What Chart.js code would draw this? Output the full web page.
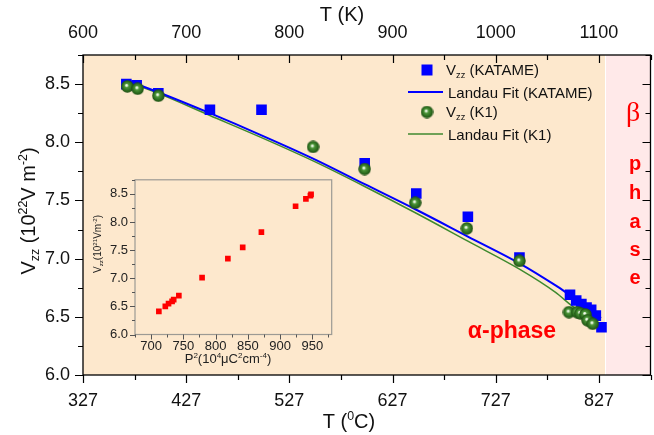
<!DOCTYPE html>
<html>
<head>
<meta charset="utf-8">
<script src="https://cdn.jsdelivr.net/npm/chart.js@4.4.1/dist/chart.umd.min.js"></script>
<style>
  html, body { margin: 0; padding: 0; background: #fff; overflow: hidden; }
  #wrap { position: relative; width: 654px; height: 435px; overflow: hidden; }
  #main { position: absolute; left: 0; top: 0; }
  #inset { position: absolute; left: 88px; top: 165px; }
</style>
</head>
<body>
<div id="wrap">
  <canvas id="main" width="658" height="435" style="width:658px;height:435px"></canvas>
  <canvas id="inset" width="252" height="210" style="width:252px;height:210px"></canvas>
</div>
<script>
// Vzz vs temperature (°C), KATAME and K1 samples
const katameT = [369, 379, 400, 450, 500, 600, 650, 700, 750, 799, 805, 810, 815, 819.5, 824, 829.5];
const katameV = [8.50, 8.49, 8.42, 8.28, 8.28, 7.82, 7.56, 7.36, 7.01, 6.69, 6.64, 6.61, 6.58, 6.56, 6.51, 6.41];
const k1T = [370, 380, 400, 550, 600, 649, 699, 750, 798, 806, 809, 814, 816, 821];
const k1V = [8.48, 8.46, 8.40, 7.96, 7.77, 7.48, 7.26, 6.98, 6.54, 6.54, 6.53, 6.52, 6.47, 6.44];

// Landau fit curves
const fitKatameT = [370, 400, 450, 500, 550, 600, 650, 700, 750, 785, 800, 815, 829];
const fitKatameV = [8.53, 8.43, 8.25, 8.06, 7.86, 7.64, 7.42, 7.19, 6.96, 6.77, 6.68, 6.59, 6.49];
const fitK1T = [370, 400, 450, 500, 550, 600, 650, 700, 750, 785, 800, 815, 822];
const fitK1V = [8.52, 8.42, 8.23, 8.04, 7.84, 7.62, 7.39, 7.15, 6.91, 6.71, 6.60, 6.50, 6.45];

// inset: Vzz vs P^2
const p2 = [712, 722, 727, 732.5, 735, 743, 779, 819, 842, 871, 924, 940, 947, 948];
const p2Vzz = [6.41, 6.50, 6.55, 6.59, 6.62, 6.69, 7.01, 7.35, 7.55, 7.82, 8.28, 8.41, 8.47, 8.49];

// axis ticks
const celsiusTicks = [327, 427, 527, 627, 727, 827];
const celsiusMinor = [377, 477, 577, 677, 777, 877];
const kelvinTicks = [600, 700, 800, 900, 1000, 1100];
const kelvinMinor = [650, 750, 850, 950, 1050, 1150];
const vzzTicks = [6.0, 6.5, 7.0, 7.5, 8.0, 8.5];
const vzzMinor = [6.25, 6.75, 7.25, 7.75, 8.25, 8.75];
const p2Ticks = [700, 750, 800, 850, 900, 950];
const p2Minor = [675, 725, 775, 825, 875, 925, 975];

const betaStart = 833; // °C, start of the beta phase band

const FONT = '"Liberation Sans", Arial, sans-serif';
const CREAM = '#fde8cd';
const PINK = '#ffe9e9';
const BLUE = '#0000ff';
const GREEN_LINE = '#3f8a2f';
const RED = '#ff0000';

const zip = (xs, ys) => xs.map((x, i) => ({ x, y: ys[i] }));

// shaded green ball used as point marker
function makeSphere(d) {
  const c = document.createElement('canvas');
  c.width = c.height = d;
  const g = c.getContext('2d');
  const r = d / 2;
  const grad = g.createRadialGradient(r * 0.85, r * 0.8, 0, r, r, r);
  grad.addColorStop(0, '#ffffff');
  grad.addColorStop(0.16, '#d6ebcc');
  grad.addColorStop(0.32, '#4c9639');
  grad.addColorStop(0.75, '#2a681c');
  grad.addColorStop(1, '#1a4a11');
  g.fillStyle = grad;
  g.beginPath();
  g.arc(r, r, r - 0.3, 0, Math.PI * 2);
  g.fill();
  return c;
}
const sphere = makeSphere(13);

// text with sub/superscript pieces, y is the baseline
function richText(ctx, parts, x, y, size, align, color, weight) {
  weight = weight || 'normal';
  const fontFor = k => `${weight} ${k ? size * 0.62 : size}px ${FONT}`;
  const widths = parts.map(([t, k]) => { ctx.font = fontFor(k); return ctx.measureText(t).width; });
  const total = widths.reduce((a, b) => a + b, 0);
  let cx = align === 'center' ? x - total / 2 : x;
  ctx.fillStyle = color;
  ctx.textAlign = 'left';
  ctx.textBaseline = 'alphabetic';
  parts.forEach(([t, k], i) => {
    ctx.font = fontFor(k);
    const dy = k === 'sub' ? size * 0.22 : k === 'sup' ? -size * 0.38 : 0;
    ctx.fillText(t, cx, y + dy);
    cx += widths[i];
  });
}

function hTicks(ctx, scale, y, values, len) {
  values.forEach(v => {
    const px = Math.round(scale.getPixelForValue(v)) + 0.5;
    ctx.moveTo(px, y);
    ctx.lineTo(px, y + len);
  });
}
function vTicks(ctx, scale, x, values, len) {
  values.forEach(v => {
    const py = Math.round(scale.getPixelForValue(v)) + 0.5;
    ctx.moveTo(x, py);
    ctx.lineTo(x + len, py);
  });
}

const backdrop = {
  id: 'backdrop',
  beforeDraw(chart) {
    const { ctx, chartArea: a, scales } = chart;
    ctx.save();
    ctx.fillStyle = '#fff';
    ctx.fillRect(0, 0, chart.width, chart.height);
    ctx.fillStyle = CREAM;
    ctx.fillRect(a.left, a.top, a.right - a.left, a.bottom - a.top);
    const bx = Math.round(scales.x.getPixelForValue(betaStart));
    ctx.fillStyle = PINK;
    ctx.fillRect(bx, a.top, a.right - bx, a.bottom - a.top);
    ctx.strokeStyle = '#fff';
    ctx.lineWidth = 1;
    ctx.beginPath();
    ctx.moveTo(bx + 0.5, a.top);
    ctx.lineTo(bx + 0.5, a.bottom);
    ctx.stroke();
    ctx.restore();
  }
};

const mainFrame = {
  id: 'mainFrame',
  afterDraw(chart) {
    const { ctx, chartArea: a, scales } = chart;
    ctx.save();
    ctx.strokeStyle = '#000';
    ctx.lineWidth = 1.3;
    ctx.strokeRect(a.left, a.top, a.right - a.left, a.bottom - a.top);
    ctx.lineWidth = 1.2;
    ctx.beginPath();
    hTicks(ctx, scales.x, a.bottom, celsiusTicks, 8);
    hTicks(ctx, scales.x, a.bottom, celsiusMinor, 5);
    hTicks(ctx, scales.xK, a.top, kelvinTicks, 8);
    hTicks(ctx, scales.xK, a.top, kelvinMinor, 5);
    vTicks(ctx, scales.y, a.left, vzzTicks, -8);
    vTicks(ctx, scales.y, a.left, vzzMinor, -5);
    vTicks(ctx, scales.y, a.right, vzzTicks, -8);
    vTicks(ctx, scales.y, a.right, vzzMinor, -5);
    ctx.stroke();

    // axis titles
    const ink = '#111';
    richText(ctx, [['T (K)']], 342, 21, 20, 'center', ink);
    richText(ctx, [['T ('], ['0', 'sup'], ['C)']], 349, 428, 20, 'center', ink);
    ctx.save();
    ctx.translate(28, 211);
    ctx.rotate(-Math.PI / 2);
    richText(ctx, [['V'], ['zz', 'sub'], [' (10'], ['22', 'sup'], ['V m'], ['-2', 'sup'], [')']], 0, 7, 20, 'center', ink);
    ctx.restore();

    // legend
    const lx = 427;
    ctx.fillStyle = BLUE;
    ctx.fillRect(lx - 5.5, 64.5, 11, 11);
    richText(ctx, [['V'], ['zz', 'sub'], [' (KATAME)']], 446, 75, 15, 'left', ink);
    ctx.strokeStyle = BLUE;
    ctx.lineWidth = 2;
    ctx.beginPath(); ctx.moveTo(408, 92); ctx.lineTo(443, 92); ctx.stroke();
    richText(ctx, [['Landau Fit (KATAME)']], 448, 97.5, 15, 'left', ink);
    ctx.drawImage(sphere, lx - 6.5, 112 - 6.5);
    richText(ctx, [['V'], ['zz', 'sub'], [' (K1)']], 446, 117, 15, 'left', ink);
    ctx.strokeStyle = GREEN_LINE;
    ctx.lineWidth = 1.5;
    ctx.beginPath(); ctx.moveTo(408, 134); ctx.lineTo(443, 134); ctx.stroke();
    richText(ctx, [['Landau Fit (K1)']], 448, 139.5, 15, 'left', ink);

    // phase labels
    richText(ctx, [['α-phase']], 512, 338, 23, 'center', RED, 'bold');
    ctx.fillStyle = RED;
    ctx.textAlign = 'center';
    ctx.textBaseline = 'alphabetic';
    ctx.font = '28px "Liberation Serif", "Times New Roman", serif';
    ctx.fillText('β', 633, 121);
    ctx.font = `bold 20px ${FONT}`;
    const letters = ['p', 'h', 'a', 's', 'e'];
    const base = [170, 199, 228, 256, 284];
    letters.forEach((l, i) => ctx.fillText(l, 635, base[i]));
    ctx.restore();
  }
};

const tickFont = { family: FONT, size: 18 };

new Chart(document.getElementById('main'), {
  type: 'scatter',
  data: {
    datasets: [
      {
        label: 'Vzz (K1)',
        data: zip(k1T, k1V),
        pointStyle: sphere,
        pointRadius: 6,
        order: 0
      },
      {
        label: 'Vzz (KATAME)',
        data: zip(katameT, katameV),
        pointStyle: 'rect',
        pointRadius: 7.5,
        backgroundColor: BLUE,
        borderWidth: 0,
        order: 1
      },
      {
        type: 'line',
        label: 'Landau Fit (KATAME)',
        data: zip(fitKatameT, fitKatameV),
        borderColor: BLUE,
        borderWidth: 2,
        pointRadius: 0,
        fill: false,
        cubicInterpolationMode: 'monotone',
        order: 2
      },
      {
        type: 'line',
        label: 'Landau Fit (K1)',
        data: zip(fitK1T, fitK1V),
        borderColor: GREEN_LINE,
        borderWidth: 1.5,
        pointRadius: 0,
        fill: false,
        cubicInterpolationMode: 'monotone',
        order: 3
      }
    ]
  },
  options: {
    responsive: false,
    animation: false,
    events: [],
    layout: { padding: { left: 0, right: 1, top: 0, bottom: 0 } },
    plugins: { legend: { display: false }, tooltip: { enabled: false } },
    scales: {
      x: {
        type: 'linear', position: 'bottom', min: 327, max: 877,
        grid: { display: false, drawTicks: false }, border: { display: false },
        ticks: { font: tickFont, color: '#111', padding: 15, autoSkip: false, maxRotation: 0, callback: v => String(v) },
        afterBuildTicks: s => { s.ticks = celsiusTicks.map(v => ({ value: v })); },
        afterFit: s => { s.height = 60; }
      },
      xK: {
        type: 'linear', position: 'top', min: 600, max: 1150,
        grid: { display: false, drawTicks: false }, border: { display: false },
        ticks: { font: tickFont, color: '#111', padding: 11, autoSkip: false, maxRotation: 0, callback: v => String(v) },
        afterBuildTicks: s => { s.ticks = kelvinTicks.map(v => ({ value: v })); },
        afterFit: s => { s.height = 55; }
      },
      y: {
        type: 'linear', position: 'left', min: 6, max: 8.75,
        grid: { display: false, drawTicks: false }, border: { display: false },
        ticks: { font: tickFont, color: '#111', padding: 13, callback: v => v.toFixed(1) },
        afterBuildTicks: s => { s.ticks = vzzTicks.map(v => ({ value: v })); },
        afterFit: s => { s.width = 83; }
      }
    }
  },
  plugins: [backdrop, mainFrame]
});

// inset chart
const insetFrame = {
  id: 'insetFrame',
  afterDraw(chart) {
    const { ctx, chartArea: a, scales } = chart;
    ctx.save();
    ctx.strokeStyle = '#9c9a94';
    ctx.lineWidth = 1.2;
    ctx.strokeRect(a.left, a.top, a.right - a.left, a.bottom - a.top);
    ctx.strokeStyle = '#555';
    ctx.lineWidth = 1;
    ctx.beginPath();
    hTicks(ctx, scales.x, a.bottom, p2Ticks, 5);
    hTicks(ctx, scales.x, a.bottom, p2Minor, 3);
    vTicks(ctx, scales.y, a.left, vzzTicks, -5);
    vTicks(ctx, scales.y, a.left, vzzMinor, -3);
    ctx.stroke();

    const ink = '#222';
    richText(ctx, [['P'], ['2', 'sup'], ['(10'], ['4', 'sup'], ['μC'], ['2', 'sup'], ['cm'], ['-4', 'sup'], [')']], 140, 198, 13, 'center', ink);
    ctx.save();
    ctx.translate(9, 79);
    ctx.rotate(-Math.PI / 2);
    richText(ctx, [['V'], ['zz', 'sub'], ['(10'], ['21', 'sup'], ['Vm'], ['-2', 'sup'], [')']], 0, 3.5, 10, 'center', ink);
    ctx.restore();
    ctx.restore();
  }
};

const insetTickFont = { family: FONT, size: 13 };

new Chart(document.getElementById('inset'), {
  type: 'scatter',
  data: {
    datasets: [{
      data: zip(p2, p2Vzz),
      pointStyle: 'rect',
      pointRadius: 4,
      backgroundColor: RED,
      borderWidth: 0
    }]
  },
  options: {
    responsive: false,
    animation: false,
    events: [],
    layout: { padding: { left: 0, right: 8.3, top: 10, bottom: 0 } },
    plugins: { legend: { display: false }, tooltip: { enabled: false } },
    scales: {
      x: {
        type: 'linear', min: 675, max: 980,
        grid: { display: false, drawTicks: false }, border: { display: false },
        ticks: { font: insetTickFont, color: '#222', padding: 4, autoSkip: false, maxRotation: 0, callback: v => String(v) },
        afterBuildTicks: s => { s.ticks = p2Ticks.map(v => ({ value: v })); },
        afterFit: s => { s.height = 40.5; }
      },
      y: {
        type: 'linear', min: 6, max: 8.75,
        grid: { display: false, drawTicks: false }, border: { display: false },
        ticks: { font: insetTickFont, color: '#222', padding: 7, callback: v => v.toFixed(1) },
        afterBuildTicks: s => { s.ticks = vzzTicks.map(v => ({ value: v })); },
        afterFit: s => { s.width = 47; }
      }
    }
  },
  plugins: [insetFrame]
});
</script>
</body>
</html>
